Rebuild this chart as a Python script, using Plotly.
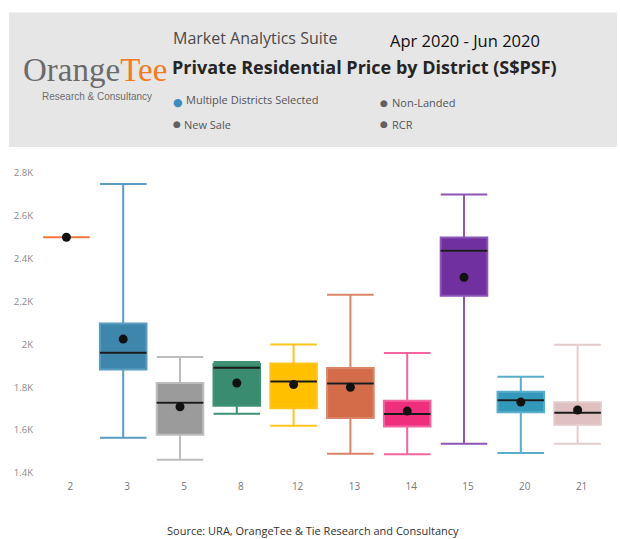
import plotly.graph_objects as go

# ---------------- data ----------------
districts = ["2", "3", "5", "8", "12", "13", "14", "15", "20", "21"]
lower_whisker = [2500, 1565, 1462, 1677, 1621, 1490, 1487, 1537, 1493, 1537]
q1_values     = [2500, 1883, 1579, 1714, 1702, 1657, 1617, 2227, 1683, 1625]
median_values = [2500, 1961, 1728, 1891, 1827, 1818, 1675, 2437, 1739, 1681]
q3_values     = [2500, 2098, 1820, 1909, 1911, 1890, 1737, 2499, 1779, 1730]
upper_whisker = [2500, 2749, 1941, 1918, 2000, 2232, 1960, 2700, 1849, 1999]
mean_values   = [2500, 2025, 1709, 1820, 1813, 1800, 1689, 2313, 1731, 1694]

fill_colors = ["#F5773E", "#3F86AD", "#9B9B9B", "#3A8C70", "#FFC000",
               "#D46C4A", "#F02E7E", "#7030A0", "#3399BB", "#DFBFBF"]
line_colors = ["#F5773E", "#5A9CC2", "#BDBDBD", "#3F9273", "#FFC51F",
               "#DC8468", "#F465A0", "#8C55B8", "#59AECB", "#E3CCCC"]

y_tick_vals = [1400, 1600, 1800, 2000, 2200, 2400, 2600, 2800]
y_tick_text = ["1.4K", "1.6K", "1.8K", "2K", "2.2K", "2.4K", "2.6K", "2.8K"]

# ---------------- layout geometry ----------------
W, H = 620, 539
PL, PR, PT, PB = 38, 606, 173, 473
BOX_WIDTH = 0.82  # fraction of a category slot


def px(x):
    return (x - PL) / (PR - PL)


def py(y):
    return (PB - y) / (PB - PT)


FONT = "Segoe UI, Open Sans, sans-serif"

fig = go.Figure()

for i, d in enumerate(districts):
    fig.add_trace(go.Box(
        x=[d],
        q1=[q1_values[i]], median=[median_values[i]], q3=[q3_values[i]],
        lowerfence=[lower_whisker[i]], upperfence=[upper_whisker[i]],
        fillcolor=fill_colors[i],
        line=dict(color=line_colors[i], width=2),
        width=BOX_WIDTH,
        whiskerwidth=1,
        boxpoints=False,
        showlegend=False,
        hoverinfo="skip",
    ))
    if q3_values[i] > q1_values[i]:
        # black median line
        fig.add_trace(go.Box(
            x=[d],
            q1=[median_values[i]], median=[median_values[i]], q3=[median_values[i]],
            lowerfence=[median_values[i]], upperfence=[median_values[i]],
            fillcolor="rgba(0,0,0,0)",
            line=dict(color="#1a1a1a", width=2),
            width=BOX_WIDTH,
            whiskerwidth=1,
            boxpoints=False,
            showlegend=False,
            hoverinfo="skip",
        ))

fig.add_trace(go.Scatter(
    x=districts, y=mean_values, mode="markers",
    marker=dict(color="#111111", size=9),
    showlegend=False, hoverinfo="skip",
))

shapes = [
    dict(type="rect", xref="paper", yref="paper",
         x0=px(9), x1=px(617), y0=py(147), y1=py(12.5),
         fillcolor="#E6E6E6", line=dict(width=0), layer="below"),
]

annotations = []


def ann(x, y, text, size, color, family=FONT, xanchor="left", yanchor="middle"):
    annotations.append(dict(
        x=px(x), y=py(y), xref="paper", yref="paper", text=text,
        showarrow=False, xanchor=xanchor, yanchor=yanchor,
        font=dict(size=size, color=color, family=family),
    ))


ann(21, 70, '<span style="color:#6B6B6B">Orange</span><span style="color:#F47A20">Tee</span>',
    33, "#6B6B6B", family="Liberation Serif, Times New Roman, serif")
ann(97, 96, "Research &amp; Consultancy", 10, "#6E6E6E",
    family="Liberation Sans, Arial, sans-serif", xanchor="center")
ann(171, 38, "Market Analytics Suite", 16, "#4A4A4A")
ann(388, 40, "Apr 2020 - Jun 2020", 16.5, "#111111")
ann(170, 67, "<b>Private Residential Price by District (S$PSF)</b>", 18, "#252525")

DOT = "DejaVu Sans, sans-serif"
ann(177.5, 103, "●", 11, "#3A8DBF", family=DOT, xanchor="center")
ann(184, 99, "Multiple Districts Selected", 11, "#555555")
ann(176.5, 124, "●", 9, "#606060", family=DOT, xanchor="center")
ann(182, 124, "New Sale", 11, "#555555")
ann(384, 103, "●", 9, "#606060", family=DOT, xanchor="center")
ann(390, 103, "Non-Landed", 11, "#555555")
ann(384, 124, "●", 9, "#606060", family=DOT, xanchor="center")
ann(390, 124, "RCR", 11, "#555555")
ann(313, 530, "Source: URA, OrangeTee &amp; Tie Research and Consultancy", 11, "#333333",
    xanchor="center")

fig.update_layout(
    width=W, height=H,
    margin=dict(l=PL, r=W - PR, t=PT, b=H - PB, autoexpand=False),
    paper_bgcolor="white", plot_bgcolor="white",
    boxmode="overlay", boxgap=0.18, boxgroupgap=0,
    font=dict(family=FONT),
    shapes=shapes, annotations=annotations,
    xaxis=dict(
        type="category", categoryorder="array", categoryarray=districts,
        range=[-0.5, len(districts) - 0.5],
        showgrid=False, zeroline=False, showline=False,
        tickfont=dict(size=10, color="#777777"),
        ticks="", ticklabelstandoff=6, ticklabelshift=4,
    ),
    yaxis=dict(
        range=[1400, 2800], tickvals=y_tick_vals, ticktext=y_tick_text,
        showgrid=False, zeroline=False, showline=False,
        tickfont=dict(size=9.5, color="#8A8A8A"),
        ticks="", ticklabelstandoff=4,
    ),
)

fig.write_html(
    "out.html",
    config={"displayModeBar": False},
    post_script="document.body.style.margin='0';document.body.style.overflow='hidden';",
)
